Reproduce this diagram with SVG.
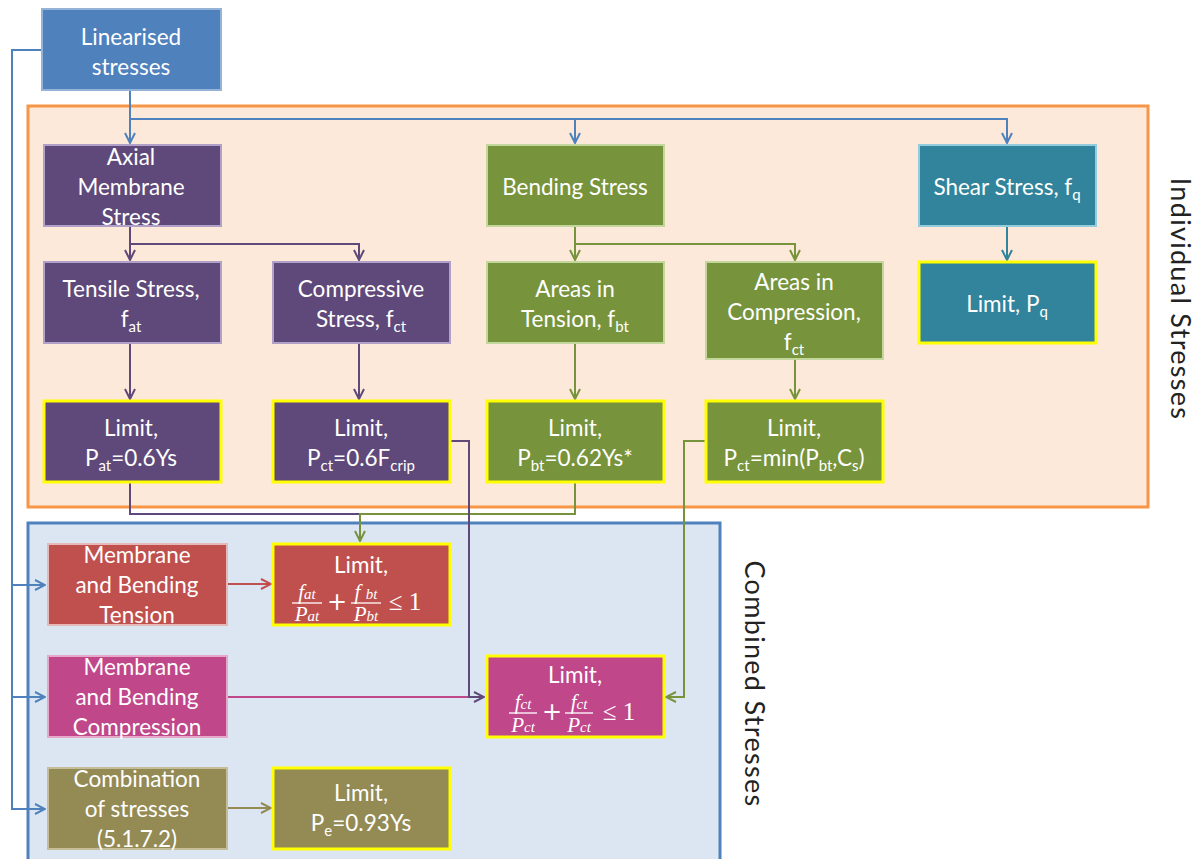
<svg xmlns="http://www.w3.org/2000/svg" width="1200" height="859" viewBox="0 0 1200 859">
<defs>
<style>
.t{font-family:Lato,"Open Sans","Liberation Sans",sans-serif;font-size:22.5px;fill:#fff;text-anchor:middle}
.s{font-size:15px}
.m{font-family:"Liberation Serif","DejaVu Serif",serif;font-style:italic;font-size:21px;fill:#fff;text-anchor:middle}
.mo{font-family:"DejaVu Sans","Liberation Sans",sans-serif;font-size:24px;fill:#fff;text-anchor:middle}
.le{font-family:"Liberation Serif","DejaVu Serif",serif;font-size:25px;fill:#fff;text-anchor:middle}
.lbl{font-family:Lato,"Open Sans","Liberation Sans",sans-serif;font-size:27px;letter-spacing:1.3px;fill:#222;text-anchor:middle}
.c{fill:none;stroke-width:2}
.lim{stroke:#FFFF00;stroke-width:3}
</style>
<marker id="ab" viewBox="0 0 12 12" refX="11" refY="6" markerWidth="12" markerHeight="12" markerUnits="userSpaceOnUse" orient="auto"><path d="M1,1 L11,6 L1,11" fill="none" stroke="#4F81BD" stroke-width="2"/></marker>
<marker id="ap" viewBox="0 0 12 12" refX="11" refY="6" markerWidth="12" markerHeight="12" markerUnits="userSpaceOnUse" orient="auto"><path d="M1,1 L11,6 L1,11" fill="none" stroke="#5F497A" stroke-width="2"/></marker>
<marker id="ag" viewBox="0 0 12 12" refX="11" refY="6" markerWidth="12" markerHeight="12" markerUnits="userSpaceOnUse" orient="auto"><path d="M1,1 L11,6 L1,11" fill="none" stroke="#77933C" stroke-width="2"/></marker>
<marker id="at" viewBox="0 0 12 12" refX="11" refY="6" markerWidth="12" markerHeight="12" markerUnits="userSpaceOnUse" orient="auto"><path d="M1,1 L11,6 L1,11" fill="none" stroke="#31849B" stroke-width="2"/></marker>
<marker id="ar" viewBox="0 0 12 12" refX="11" refY="6" markerWidth="12" markerHeight="12" markerUnits="userSpaceOnUse" orient="auto"><path d="M1,1 L11,6 L1,11" fill="none" stroke="#C0504D" stroke-width="2"/></marker>
<marker id="ao" viewBox="0 0 12 12" refX="11" refY="6" markerWidth="12" markerHeight="12" markerUnits="userSpaceOnUse" orient="auto"><path d="M1,1 L11,6 L1,11" fill="none" stroke="#948A54" stroke-width="2"/></marker>
</defs>
<rect width="1200" height="859" fill="#fff"/>

<g id="individual-container">
<rect x="28" y="106" width="1120" height="401" fill="#FDE9D9" stroke="#F79646" stroke-width="3"/>
<text class="lbl" transform="translate(1171,299) rotate(90)">Individual Stresses</text>
</g>
<g id="combined-container">
<rect x="28" y="523" width="692" height="345" fill="#DCE6F2" stroke="#4F81BD" stroke-width="3"/>
<text class="lbl" transform="translate(745,684) rotate(90)">Combined Stresses</text>
</g>

<g id="connectors">
<path class="c" stroke="#4F81BD" d="M130,90 V143" marker-end="url(#ab)"/>
<path class="c" stroke="#4F81BD" d="M130,119 H575 V143" marker-end="url(#ab)"/>
<path class="c" stroke="#4F81BD" d="M575,119 H1007 V143" marker-end="url(#ab)"/>
<path class="c" stroke="#4F81BD" d="M42,50 H12 V585 H45" marker-end="url(#ab)"/>
<path class="c" stroke="#4F81BD" d="M12,585 V697 H45" marker-end="url(#ab)"/>
<path class="c" stroke="#4F81BD" d="M12,697 V809 H45" marker-end="url(#ab)"/>
<path class="c" stroke="#5F497A" d="M130,226 V260" marker-end="url(#ap)"/>
<path class="c" stroke="#5F497A" d="M130,244 H359 V260" marker-end="url(#ap)"/>
<path class="c" stroke="#5F497A" d="M130,343 V399" marker-end="url(#ap)"/>
<path class="c" stroke="#5F497A" d="M359,343 V399" marker-end="url(#ap)"/>
<path class="c" stroke="#77933C" d="M575,226 V260" marker-end="url(#ag)"/>
<path class="c" stroke="#77933C" d="M575,244 H795 V260" marker-end="url(#ag)"/>
<path class="c" stroke="#77933C" d="M575,343 V399" marker-end="url(#ag)"/>
<path class="c" stroke="#77933C" d="M795,359 V399" marker-end="url(#ag)"/>
<path class="c" stroke="#31849B" d="M1007,226 V260" marker-end="url(#at)"/>
<path class="c" stroke="#5F497A" d="M130,482 V514 H360"/>
<path class="c" stroke="#77933C" d="M575,482 V514 H360 V541" marker-end="url(#ag)"/>
<path class="c" stroke="#C0504D" d="M227,584 H271" marker-end="url(#ar)"/>
<path class="c" stroke="#C0478A" d="M227,697 H470"/>
<path class="c" stroke="#5F497A" d="M451,441 H469 V697 H484" marker-end="url(#ap)"/>
<path class="c" stroke="#77933C" d="M705,441 H684 V697 H666" marker-end="url(#ag)"/>
<path class="c" stroke="#948A54" d="M227,808 H271" marker-end="url(#ao)"/>
</g>

<g id="linearised">
<rect x="42" y="9" width="179" height="81" fill="#4F81BD" stroke="#95B3D7" stroke-width="2"/>
<text class="t" x="131" y="45">Linearised</text>
<text class="t" x="131" y="75">stresses</text>
</g>

<g id="axial">
<rect x="44" y="145" width="177" height="81" fill="#5F497A" stroke="#B1A0C7" stroke-width="2"/>
<text class="t" x="131" y="165">Axial</text>
<text class="t" x="131" y="195">Membrane</text>
<text class="t" x="131" y="225">Stress</text>
</g>
<g id="tensile">
<rect x="44" y="262" width="177" height="81" fill="#5F497A" stroke="#B1A0C7" stroke-width="2"/>
<text class="t" x="131" y="297">Tensile Stress,</text>
<text class="t" x="131" y="327">f<tspan class="s" dy="5">at</tspan></text>
</g>
<g id="compressive">
<rect x="273" y="262" width="177" height="81" fill="#5F497A" stroke="#B1A0C7" stroke-width="2"/>
<text class="t" x="361" y="297">Compressive</text>
<text class="t" x="361" y="327">Stress, f<tspan class="s" dy="5">ct</tspan></text>
</g>
<g id="limit-pat">
<rect x="44" y="401" width="177" height="81" fill="#5F497A" class="lim"/>
<text class="t" x="131" y="436">Limit,</text>
<text class="t" x="131" y="466">P<tspan class="s" dy="5">at</tspan><tspan dy="-5">=0.6Ys</tspan></text>
</g>
<g id="limit-pct">
<rect x="273" y="401" width="177" height="81" fill="#5F497A" class="lim"/>
<text class="t" x="361" y="436">Limit,</text>
<text class="t" x="361" y="466">P<tspan class="s" dy="5">ct</tspan><tspan dy="-5">=0.6F</tspan><tspan class="s" dy="5">crip</tspan></text>
</g>

<g id="bending">
<rect x="487" y="145" width="177" height="81" fill="#77933C" stroke="#C3D69B" stroke-width="2"/>
<text class="t" x="575" y="195">Bending Stress</text>
</g>
<g id="areas-tension">
<rect x="487" y="262" width="177" height="81" fill="#77933C" stroke="#C3D69B" stroke-width="2"/>
<text class="t" x="575" y="297">Areas in</text>
<text class="t" x="575" y="327">Tension, f<tspan class="s" dy="5">bt</tspan></text>
</g>
<g id="areas-compression">
<rect x="706" y="262" width="177" height="97" fill="#77933C" stroke="#C3D69B" stroke-width="2"/>
<text class="t" x="794" y="290">Areas in</text>
<text class="t" x="794" y="320">Compression,</text>
<text class="t" x="794" y="350">f<tspan class="s" dy="5">ct</tspan></text>
</g>
<g id="limit-pbt">
<rect x="487" y="401" width="177" height="81" fill="#77933C" class="lim"/>
<text class="t" x="575" y="436">Limit,</text>
<text class="t" x="575" y="466">P<tspan class="s" dy="5">bt</tspan><tspan dy="-5">=0.62Ys*</tspan></text>
</g>
<g id="limit-pct-min">
<rect x="706" y="401" width="177" height="81" fill="#77933C" class="lim"/>
<text class="t" x="794" y="436">Limit,</text>
<text class="t" x="794" y="466">P<tspan class="s" dy="5">ct</tspan><tspan dy="-5">=min(P</tspan><tspan class="s" dy="5">bt</tspan><tspan dy="-5">,C</tspan><tspan class="s" dy="5">s</tspan><tspan dy="-5">)</tspan></text>
</g>

<g id="shear">
<rect x="919" y="145" width="177" height="81" fill="#31849B" stroke="#93CDDD" stroke-width="2"/>
<text class="t" x="1007" y="195">Shear Stress, f<tspan class="s" dy="5">q</tspan></text>
</g>
<g id="limit-pq">
<rect x="919" y="262" width="177" height="81" fill="#31849B" class="lim"/>
<text class="t" x="1007" y="312">Limit, P<tspan class="s" dy="5">q</tspan></text>
</g>

<g id="mb-tension">
<rect x="48" y="544" width="179" height="81" fill="#C0504D" stroke="#E6B9B8" stroke-width="2"/>
<text class="t" x="137" y="563">Membrane</text>
<text class="t" x="137" y="593">and Bending</text>
<text class="t" x="137" y="623">Tension</text>
</g>
<g id="limit-tension">
<rect x="273" y="544" width="177" height="81" fill="#C0504D" class="lim"/>
<text class="t" x="361" y="573">Limit,</text>
<text class="m" x="307" y="599">f<tspan font-size="15">at</tspan></text>
<line x1="292" y1="603" x2="322" y2="603" stroke="#fff" stroke-width="1.3"/>
<text class="m" x="307" y="621">P<tspan font-size="15">at</tspan></text>
<text class="mo" x="337" y="610">+</text>
<text class="m" x="366" y="599">f <tspan font-size="15">bt</tspan></text>
<line x1="351" y1="603" x2="381" y2="603" stroke="#fff" stroke-width="1.3"/>
<text class="m" x="366" y="621">P<tspan font-size="15">bt</tspan></text>
<text class="le" x="405" y="610">≤ 1</text>
</g>

<g id="mb-compression">
<rect x="48" y="656" width="179" height="81" fill="#C0478A" stroke="#E6A8C8" stroke-width="2"/>
<text class="t" x="137" y="675">Membrane</text>
<text class="t" x="137" y="705">and Bending</text>
<text class="t" x="137" y="735">Compression</text>
</g>
<g id="limit-compression">
<rect x="487" y="656" width="177" height="81" fill="#C0478A" class="lim"/>
<text class="t" x="575" y="683">Limit,</text>
<text class="m" x="523" y="709">f<tspan font-size="15">ct</tspan></text>
<line x1="509" y1="713" x2="537" y2="713" stroke="#fff" stroke-width="1.3"/>
<text class="m" x="523" y="732">P<tspan font-size="15">ct</tspan></text>
<text class="mo" x="552" y="720">+</text>
<text class="m" x="579" y="709">f<tspan font-size="15">ct</tspan></text>
<line x1="565" y1="713" x2="593" y2="713" stroke="#fff" stroke-width="1.3"/>
<text class="m" x="579" y="732">P<tspan font-size="15">ct</tspan></text>
<text class="le" x="619" y="720">≤ 1</text>
</g>

<g id="combination">
<rect x="48" y="768" width="179" height="81" fill="#948A54" stroke="#C4BD97" stroke-width="2"/>
<text class="t" x="137" y="787">Combination</text>
<text class="t" x="137" y="817">of stresses</text>
<text class="t" x="137" y="847">(5.1.7.2)</text>
</g>
<g id="limit-pe">
<rect x="273" y="768" width="177" height="81" fill="#948A54" class="lim"/>
<text class="t" x="361" y="801">Limit,</text>
<text class="t" x="361" y="831">P<tspan class="s" dy="5">e</tspan><tspan dy="-5">=0.93Ys</tspan></text>
</g>
</svg>
